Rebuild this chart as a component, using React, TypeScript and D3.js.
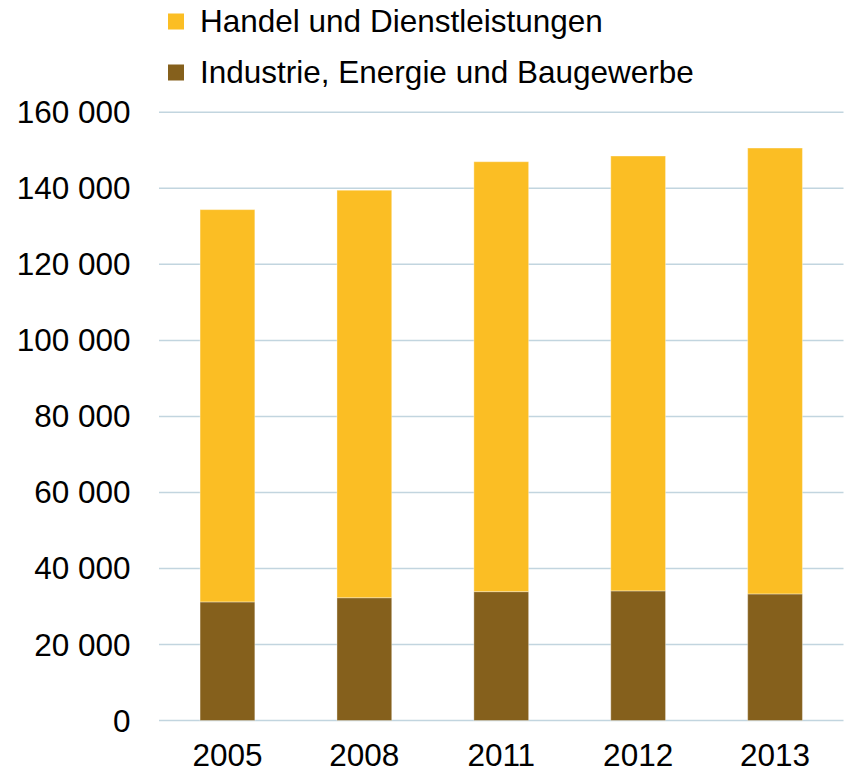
import React from "react";
import * as d3 from "d3";

const years = ["2005", "2008", "2011", "2012", "2013"];
const industrie = [31200, 32300, 33900, 34100, 33300];
const handel = [103200, 107200, 113100, 114400, 117300];
const seriesNames = ["Handel und Dienstleistungen", "Industrie, Energie und Baugewerbe"];
const seriesColors = ["#FBBE24", "#85601C"];
const yTicks = [0, 20000, 40000, 60000, 80000, 100000, 120000, 140000, 160000];

const W = 846;
const H = 773;
const left = 159;
const right = 843.5;
const top = 112.3;
const bottom = 720.5;

const fmt = (v: number) => {
  const s = String(v);
  return s.replace(/\B(?=(\d{3})+(?!\d))/g, " ");
};

export default function App() {
  const x = d3.scaleBand<string>().domain(years).range([left, right]).paddingInner(0.6).paddingOuter(0.3);
  const y = d3.scaleLinear().domain([0, 160000]).range([bottom, top]);
  const rows = years.map((yr, i) => ({ year: yr, ind: industrie[i], han: handel[i] }));
  const stack = d3.stack<any>().keys(["ind", "han"])(rows);
  const font = "'Liberation Sans', Arial, sans-serif";
  const fs = 31.5;

  return (
    <svg width={W} height={H} style={{ position: "absolute", left: 0, top: 0, display: "block" }}>
      <rect x={0} y={0} width={W} height={H} fill="#fff" />
      {yTicks.map((t) => (
        <g key={t}>
          <line x1={left} x2={right} y1={y(t)} y2={y(t)} stroke="#C2D5DF" strokeWidth={1.5} />
          <text x={130.5} y={y(t)} dy="0.35em" textAnchor="end" fontFamily={font} fontSize={fs} fill="#000">
            {fmt(t)}
          </text>
        </g>
      ))}
      {stack.map((layer, li) => (
        <g key={li}>
          {layer.map((d, i) => (
            <rect
              key={i}
              x={x(years[i])!}
              width={x.bandwidth()}
              y={y(d[1])}
              height={y(d[0]) - y(d[1])}
              fill={li === 0 ? seriesColors[1] : seriesColors[0]}
              stroke="rgba(255,255,255,0.35)"
              strokeWidth={1}
            />
          ))}
        </g>
      ))}
      {years.map((yr) => (
        <text key={yr} x={x(yr)! + x.bandwidth() / 2} y={766} textAnchor="middle" fontFamily={font} fontSize={fs} fill="#000">
          {yr}
        </text>
      ))}
      {seriesNames.map((name, i) => (
        <g key={name}>
          <rect x={168} y={13.5 + i * 51} width={16} height={16} fill={seriesColors[i]} />
          <text x={200} y={32 + i * 51} fontFamily={font} fontSize={fs} fill="#000">
            {name}
          </text>
        </g>
      ))}
    </svg>
  );
}
